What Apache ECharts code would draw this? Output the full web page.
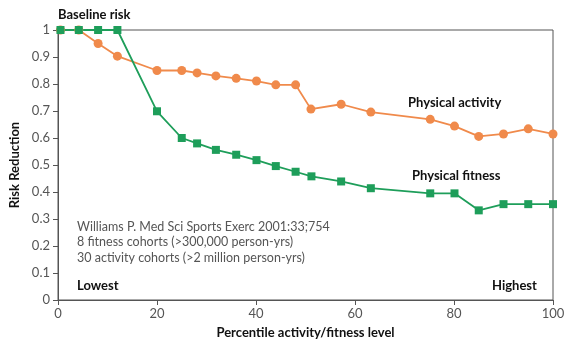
<!DOCTYPE html>
<html><head><meta charset="utf-8">
<script src="https://cdn.jsdelivr.net/npm/echarts@6/dist/echarts.min.js"></script>
<style>html,body{margin:0;padding:0;background:#fff}#c{width:576px;height:355px}</style>
</head><body><div id="c"></div>
<script>
var activityX = [0.5, 4.2, 8.1, 12.0, 20.0, 25.0, 28.1, 31.9, 36.0, 40.1, 44.0, 48.0, 51.1, 57.2, 63.2, 75.2, 80.1, 85.0, 90.0, 95.0, 100];
var activityY = [1.0, 1.0, 0.950, 0.903, 0.850, 0.850, 0.841, 0.830, 0.821, 0.811, 0.797, 0.797, 0.707, 0.725, 0.696, 0.669, 0.644, 0.606, 0.615, 0.634, 0.615];
var fitnessX = [0.5, 4.2, 8.1, 12.0, 20.0, 25.0, 28.1, 31.9, 36.0, 40.1, 44.0, 48.0, 51.2, 57.2, 63.2, 75.2, 80.1, 85.0, 90.0, 95.0, 100];
var fitnessY = [1.0, 1.0, 1.0, 1.0, 0.699, 0.600, 0.580, 0.556, 0.538, 0.518, 0.496, 0.475, 0.458, 0.439, 0.414, 0.395, 0.395, 0.332, 0.355, 0.355, 0.355];
var noteLines = ["Williams P. Med Sci Sports Exerc 2001:33;754", "8 fitness cohorts (>300,000 person-yrs)", "30 activity cohorts (>2 million person-yrs)"];

function pairs(xs, ys){ return xs.map(function(x,i){return [x, ys[i]];}); }
var FONT = "Lato, 'Open Sans', sans-serif";
var chart = echarts.init(document.getElementById('c'), null, {renderer:'canvas'});
var texts = [
  {type:'text', left:58, top:8, style:{text:'Baseline risk', font:'bold 13px '+FONT, fill:'#111'}},
  {type:'text', left:408, top:96, style:{text:'Physical activity', font:'bold 13px '+FONT, fill:'#111'}},
  {type:'text', left:412, top:169, style:{text:'Physical fitness', font:'bold 13px '+FONT, fill:'#111'}},
  {type:'text', left:77, top:279, style:{text:'Lowest', font:'bold 13px '+FONT, fill:'#111'}},
  {type:'text', left:492, top:279, style:{text:'Highest', font:'bold 13px '+FONT, fill:'#111'}}
];
noteLines.forEach(function(t,i){
  texts.push({type:'text', left:77, top:220 + i*15.5, style:{text:t, font:'12.5px '+FONT, fill:'#555'}});
});
chart.setOption({
  animation:false,
  grid:{left:58, right:23, top:30, bottom:55, show:true, borderColor:'#555', borderWidth:1, containLabel:false, outerBoundsMode:'none'},
  xAxis:{type:'value', min:0, max:100, interval:20,
    name:'Percentile activity/fitness level', nameLocation:'middle', nameGap:26,
    nameTextStyle:{fontFamily:FONT, fontWeight:'bold', fontSize:13, color:'#111'},
    axisLine:{lineStyle:{color:'#555'}}, axisTick:{length:5, lineStyle:{color:'#555'}},
    axisLabel:{fontFamily:FONT, fontSize:13, color:'#555', margin:7}, splitLine:{show:false}},
  yAxis:{type:'value', min:0, max:1, interval:0.1,
    name:'Risk Reduction', nameLocation:'middle', nameGap:34,
    nameTextStyle:{fontFamily:FONT, fontWeight:'bold', fontSize:13, color:'#111'},
    axisLine:{show:true, lineStyle:{color:'#555'}}, axisTick:{show:true, length:5, lineStyle:{color:'#555'}},
    axisLabel:{fontFamily:FONT, fontSize:13, color:'#555', margin:8, formatter:function(v){return String(+v.toFixed(1));}},
    splitLine:{show:false}},
  series:[
    {type:'line', name:'Physical activity', data:pairs(activityX, activityY), symbol:'circle', symbolSize:9,
     lineStyle:{color:'#F08A4B', width:1.8}, itemStyle:{color:'#F08A4B'}},
    {type:'line', name:'Physical fitness', data:pairs(fitnessX, fitnessY), symbol:'rect', symbolSize:8,
     lineStyle:{color:'#1E9E5A', width:1.8}, itemStyle:{color:'#1E9E5A'}}
  ],
  graphic:texts
});
</script></body></html>
